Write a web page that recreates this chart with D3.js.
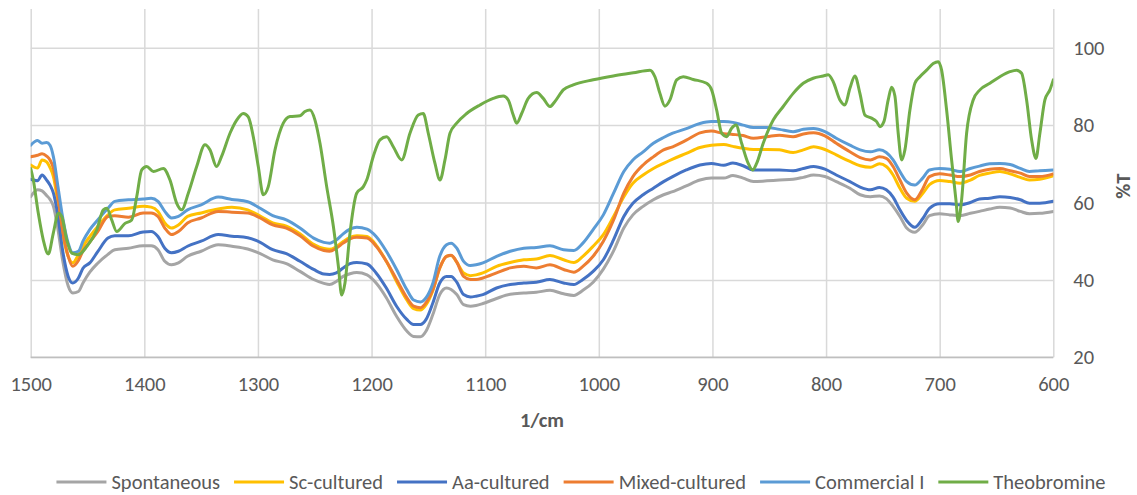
<!DOCTYPE html>
<html>
<head>
<meta charset="utf-8">
<script src="https://cdn.jsdelivr.net/npm/d3@7"></script>
<style>
  body { margin: 0; background: #fff; }
  svg { display: block; }
  text { font-family: Calibri, Carlito, Lato, sans-serif; fill: #595959; }
</style>
</head>
<body>
<svg id="chart" width="1137" height="495"></svg>
<script>
// Shared wavenumber grid (1/cm) for the five cocoa bean samples
const wavenumbers = [
  1500,1494,1490,1486,1483,1480,1476,1472,1467,1463,
  1458,1454,1448,1441,1432,1426,1414,1401,1394,1388,
  1382,1376,1370,1362,1350,1335,1323,1309,1298,1287,
  1275,1263,1251,1242,1237,1231,1225,1219,1213,1204,
  1196,1187,1178,1169,1163,1157,1152,1146,1140,1134,
  1130,1125,1119,1113,1108,1102,1090,1078,1066,1055,
  1043,1031,1022,1014,1005,996,987,978,970,961,
  952,943,935,923,911,901,890,882,873,864,
  852,841,829,820,811,801,791,779,770,761,
  753,747,741,735,729,722,715,709,700,691,
  682,673,665,656,647,638,629,621,612,600
];

// %T values
const spontaneous = [
  61.5,63.3,63.0,61.8,60.8,59.0,53.0,45.2,38.4,36.6,
  37.0,39.2,42.0,44.3,46.6,47.8,48.2,48.8,48.8,47.8,
  44.8,43.9,44.4,46.1,47.4,49.1,48.7,48.0,46.8,45.2,
  44.2,42.2,40.1,39.1,38.8,39.6,40.9,41.6,41.9,41.3,
  39.2,35.4,30.6,26.8,25.4,25.3,26.8,31.1,36.2,37.9,
  37.5,36.2,33.6,33.2,33.4,33.9,35.2,36.3,36.6,36.8,
  37.3,36.4,36.0,37.3,39.4,42.8,47.5,53.4,56.8,59.0,
  60.7,62.0,62.8,64.3,65.8,66.3,66.3,67.0,66.3,65.4,
  65.6,65.8,66.0,66.5,67.1,66.7,65.4,63.7,62.0,61.5,
  61.7,61.0,59.0,56.4,53.4,52.3,54.2,56.6,57.1,56.8,
  56.6,57.2,57.7,58.3,58.8,58.6,57.7,57.1,57.2,57.7
];

const scCultured = [
  69.7,68.9,71.0,70.5,69.0,66.7,59.8,52.1,46.1,44.4,
  46.5,48.7,51.2,53.8,56.8,58.1,58.5,59.0,58.8,57.7,
  54.7,53.4,54.2,56.4,57.3,58.3,58.8,58.1,56.5,54.7,
  53.9,51.9,49.2,48.1,47.9,48.6,49.9,51.0,51.4,51.2,
  49.0,44.8,39.6,34.8,32.6,32.2,33.6,37.3,43.0,46.1,
  46.3,44.6,41.8,41.1,41.3,41.8,43.5,44.5,45.2,45.4,
  46.3,45.2,44.5,46.1,48.7,51.7,56.4,61.5,65.0,67.1,
  68.8,70.1,71.2,72.7,74.2,74.8,75.0,74.5,74.0,73.7,
  73.7,73.6,72.9,73.6,74.4,73.7,72.3,70.6,69.5,69.1,
  70.0,69.3,67.1,63.7,61.1,60.3,62.3,64.6,65.7,65.4,
  65.0,65.8,67.0,67.6,68.0,67.4,66.5,65.8,66.0,66.9
];

const aaCultured = [
  66.0,65.6,67.1,65.8,64.5,62.4,56.4,47.8,40.9,39.2,
  40.5,43.0,44.4,47.3,50.8,51.4,51.4,52.4,52.5,51.2,
  48.2,47.0,47.4,48.7,50.0,51.7,51.3,50.9,49.7,47.8,
  46.8,44.8,42.7,41.5,41.4,41.8,43.1,44.2,44.5,44.1,
  41.8,37.9,33.2,29.8,28.5,28.5,29.8,34.1,39.2,40.9,
  40.9,39.4,36.2,35.6,35.8,36.2,37.9,38.8,39.2,39.4,
  40.1,39.2,38.8,40.1,42.2,45.2,50.4,56.4,59.8,62.0,
  63.7,65.4,66.7,68.4,69.7,70.1,69.6,70.2,69.5,68.4,
  68.4,68.4,68.2,68.8,69.3,68.6,67.1,65.4,64.0,63.3,
  63.9,63.3,61.4,58.1,55.3,53.6,55.8,58.5,59.7,59.7,
  59.4,60.0,60.9,61.1,61.5,61.3,60.7,59.8,59.8,60.3
];

const mixedCultured = [
  71.8,72.2,72.6,72.0,71.0,68.8,61.5,53.0,46.1,43.5,
  45.0,47.5,49.8,52.5,56.4,56.6,56.2,57.3,57.3,56.4,
  53.4,51.7,52.5,54.7,56.0,57.7,57.5,57.3,56.0,54.2,
  53.4,51.4,48.7,47.6,47.4,48.2,49.5,50.6,51.0,50.8,
  48.7,44.8,40.1,35.4,33.2,32.8,34.1,37.5,43.1,46.1,
  46.4,44.6,40.9,40.1,40.1,40.5,41.8,43.1,43.5,43.1,
  43.9,42.7,42.0,43.5,46.1,50.0,55.5,62.4,66.7,69.7,
  71.8,73.6,74.4,76.1,78.0,78.5,77.8,77.6,77.3,76.6,
  77.0,77.4,77.0,77.7,78.0,77.2,75.3,73.1,71.6,71.0,
  71.8,71.4,69.3,65.8,62.4,60.7,63.5,66.7,67.4,67.1,
  66.7,67.1,68.0,68.6,68.8,68.2,67.6,66.7,66.7,67.4
];

const commercialI = [
  74.8,76.0,75.3,75.5,74.8,71.8,64.1,56.4,49.5,47.0,
  47.4,50.0,53.0,55.5,58.5,60.3,60.7,60.9,61.1,60.3,
  57.7,56.0,56.4,58.1,59.4,61.4,60.8,60.2,58.5,56.6,
  55.5,53.4,50.8,49.7,49.5,50.3,51.9,53.1,53.6,53.1,
  51.2,47.4,42.7,37.5,34.8,34.3,35.4,39.2,46.1,49.1,
  49.5,48.2,44.8,43.7,43.9,44.4,46.1,47.4,48.2,48.4,
  48.8,47.8,47.6,49.5,53.0,56.8,62.4,68.0,71.0,73.1,
  75.3,76.8,77.9,79.1,80.4,80.9,80.9,80.7,80.0,79.4,
  79.4,78.9,78.3,78.9,79.1,78.3,76.6,74.8,73.6,73.1,
  73.6,72.9,71.0,68.0,65.4,64.5,66.3,68.4,68.8,68.6,
  68.0,68.8,69.4,70.0,70.1,69.8,68.8,68.0,68.2,68.4
];

// Theobromine reference spectrum, on its own grid
const theobromineWavenumbers = [
  1500,1497.7,1493.3,1488.9,1484.5,1480.1,1475.7,1472.7,1468.3,1463.9,
  1458.1,1450.7,1441.9,1436.1,1433.1,1428.7,1424.3,1417,1411.1,1406.7,
  1402.3,1397.9,1392,1383.3,1377.4,1371.5,1367.1,1361.3,1353.9,1346.6,
  1342.2,1336.4,1332,1324.6,1318.7,1312.9,1308.5,1304.1,1299.7,1295.3,
  1290.9,1285,1277.7,1271.8,1263,1258.6,1254.2,1249.8,1245.4,1239.5,
  1233.6,1229.2,1226.3,1223.4,1219,1213.1,1207.2,1204.3,1198.5,1192.6,
  1186.7,1180.9,1173.5,1166.2,1158.9,1154.5,1150.1,1144.2,1139.8,1135.4,
  1131,1125.1,1116.3,1104.6,1092.9,1084.1,1079.7,1075.3,1072.3,1067.9,
  1062.1,1054.7,1048.9,1043,1038.6,1031.3,1022.5,1004.9,987.3,969.7,
  955,950.6,946.2,941.8,937.4,931.5,925.7,916.9,905.1,900.7,
  896.3,891.9,887.5,883.1,879.3,874.3,868.5,864.7,861.1,855.3,
  846.5,837.7,828.9,820.1,811.3,802.5,798.1,793.7,787.8,783.4,
  779,774.6,770.2,765.8,760,755.5,752.6,749.1,745.3,742.3,
  739.4,736.5,733.5,730.6,726.2,721.8,717.4,711.5,705.7,701.3,
  698.3,693.9,689.5,685.7,683.7,680.7,676.3,670.5,664.6,655.8,
  647,638.2,632.3,627.9,623.5,619.1,615.3,611.8,607.4,603,
  600
];

const theobromine = [
  68.8,65.8,57.2,50.3,46.7,52.1,57.2,56.4,50.3,46.9,
  46.5,48.6,52.9,58.1,58.5,55.5,52.5,54.6,55.5,61.5,
  68.4,69.3,68.0,68.8,65.8,59.8,58.1,62.4,69.3,74.9,
  73.6,69.3,71.9,77.9,81.3,83.0,82.1,77.0,69.3,62.0,
  64.1,73.6,80.5,82.2,82.4,83.5,83.9,81.3,75.3,64.1,
  53.8,43.5,36.1,39.2,52.1,62.4,64.1,65.8,71.9,76.2,
  77.0,74.4,71.0,77.9,82.6,83.0,77.9,70.1,65.8,71.0,
  77.9,80.5,83.0,85.2,86.9,87.5,86.5,82.6,80.5,83.0,
  86.9,88.4,86.9,84.8,86.1,89.1,90.4,91.7,92.7,93.5,
  94.2,92.5,88.2,84.9,86.5,91.7,92.5,91.8,90.8,89.1,
  83.9,77.9,77.0,79.2,80.0,75.3,70.1,68.4,70.1,75.3,
  81.3,84.8,88.2,90.8,92.1,92.7,93.0,91.2,86.5,85.2,
  89.5,92.7,88.2,82.6,81.8,80.9,79.6,80.9,86.5,89.8,
  87.5,77.9,71.0,73.6,83.9,90.8,92.5,94.2,95.9,96.4,
  94.2,83.9,71.0,60.7,55.1,60.7,77.9,86.5,89.1,90.8,
  92.5,93.8,94.2,93.4,86.5,76.2,71.4,77.9,86.5,89.1,
  91.7
];

const xTicks = [1500, 1400, 1300, 1200, 1100, 1000, 900, 800, 700, 600];
const yTicks = [20, 40, 60, 80, 100];
const xTitle = "1/cm";
const yTitle = "%T";

const seriesNames = ["Spontaneous", "Sc-cultured", "Aa-cultured", "Mixed-cultured", "Commercial I", "Theobromine"];
const seriesColors = ["#A5A5A5", "#FFC000", "#4472C4", "#ED7D31", "#5B9BD5", "#70AD47"];

// Build series records from the arrays above
const series = [
  { name: seriesNames[0], color: seriesColors[0], xs: wavenumbers, ys: spontaneous },
  { name: seriesNames[1], color: seriesColors[1], xs: wavenumbers, ys: scCultured },
  { name: seriesNames[2], color: seriesColors[2], xs: wavenumbers, ys: aaCultured },
  { name: seriesNames[3], color: seriesColors[3], xs: wavenumbers, ys: mixedCultured },
  { name: seriesNames[4], color: seriesColors[4], xs: wavenumbers, ys: commercialI },
  { name: seriesNames[5], color: seriesColors[5], xs: theobromineWavenumbers, ys: theobromine }
];

const FONT = "Calibri, Carlito, Lato, sans-serif";
const FS = "20.5px";

const svg = d3.select("#chart");
const W = 1137, H = 495;
svg.append("rect").attr("width", W).attr("height", H).attr("fill", "#fff");

const plot = { left: 30.7, right: 1053.3, top: 9, bottom: 357.3 };

const x = d3.scaleLinear().domain([1500, 600]).range([plot.left, plot.right]);
const y = d3.scaleLinear().domain([20, 110]).range([plot.bottom, plot.top]);

// Horizontal gridlines
const gy = svg.append("g")
  .attr("transform", `translate(${plot.left},0)`)
  .call(d3.axisLeft(y).tickValues(yTicks).tickSize(-(plot.right - plot.left)).tickFormat(""));
gy.select(".domain").remove();
gy.selectAll(".tick line").attr("stroke", "#d9d9d9").attr("stroke-width", 1.5);

// Vertical gridlines and bottom tick labels
const gx = svg.append("g")
  .attr("transform", `translate(0,${plot.bottom})`)
  .call(d3.axisBottom(x).tickValues(xTicks).tickSize(-(plot.bottom - plot.top)).tickPadding(0).tickFormat(d3.format("d")));
gx.select(".domain").remove();
gx.selectAll(".tick line").attr("stroke", "#d9d9d9").attr("stroke-width", 1.5);
gx.selectAll(".tick text")
  .attr("y", 34).attr("dy", "0")
  .style("font-size", FS)
  .style("font-family", FONT)
  .attr("fill", "#595959");

// Bottom axis line
svg.append("line")
  .attr("x1", plot.left).attr("x2", plot.right)
  .attr("y1", plot.bottom).attr("y2", plot.bottom)
  .attr("stroke", "#bfbfbf").attr("stroke-width", 1.5);

// Right value axis labels
const gr = svg.append("g")
  .attr("transform", `translate(${plot.right},0)`)
  .call(d3.axisRight(y).tickValues(yTicks).tickSize(0).tickPadding(20).tickFormat(d3.format("d")));
gr.select(".domain").remove();
gr.selectAll(".tick text")
  .style("font-size", FS)
  .style("font-family", FONT)
  .attr("fill", "#595959");

// Axis titles
svg.append("text")
  .attr("x", (plot.left + plot.right) / 2).attr("y", 427)
  .attr("text-anchor", "middle")
  .style("font-size", FS).style("font-weight", "bold")
  .text(xTitle);

svg.append("text")
  .attr("transform", `translate(1130,${(plot.top + plot.bottom) / 2 + 3}) rotate(-90)`)
  .attr("text-anchor", "middle")
  .style("font-size", FS).style("font-weight", "bold")
  .text(yTitle);

// Spectra
svg.append("defs").append("clipPath").attr("id", "plot-clip")
  .append("rect")
  .attr("x", plot.left).attr("y", plot.top)
  .attr("width", plot.right - plot.left).attr("height", plot.bottom - plot.top);

const line = d3.line()
  .x(d => x(d[0]))
  .y(d => y(d[1]))
  .curve(d3.curveMonotoneX);

svg.append("g").attr("clip-path", "url(#plot-clip)")
  .selectAll("path")
  .data(series)
  .join("path")
  .attr("fill", "none")
  .attr("stroke", d => d.color)
  .attr("stroke-width", 3)
  .attr("stroke-linejoin", "round")
  .attr("stroke-linecap", "round")
  .attr("d", d => line(d.xs.map((w, i) => [w, d.ys[i]])));

// Legend, centred under the plot
const legend = svg.append("g");
const swatch = 50, swatchGap = 5, itemGap = 14, legendY = 482;
const items = legend.selectAll("g").data(series).join("g");
items.append("line")
  .attr("x1", 0).attr("x2", swatch)
  .attr("y1", 0).attr("y2", 0)
  .attr("stroke", d => d.color).attr("stroke-width", 3);
items.append("text")
  .attr("x", swatch + swatchGap).attr("dy", "0.35em")
  .style("font-size", FS)
  .text(d => d.name);

const widths = [];
items.each(function () {
  const tw = d3.select(this).select("text").node().getComputedTextLength();
  widths.push(swatch + swatchGap + tw);
});
const total = d3.sum(widths) + itemGap * (widths.length - 1);
let cursor = 581 - total / 2;
items.attr("transform", (d, i) => {
  const t = `translate(${cursor},${legendY})`;
  cursor += widths[i] + itemGap;
  return t;
});
</script>
</body>
</html>
